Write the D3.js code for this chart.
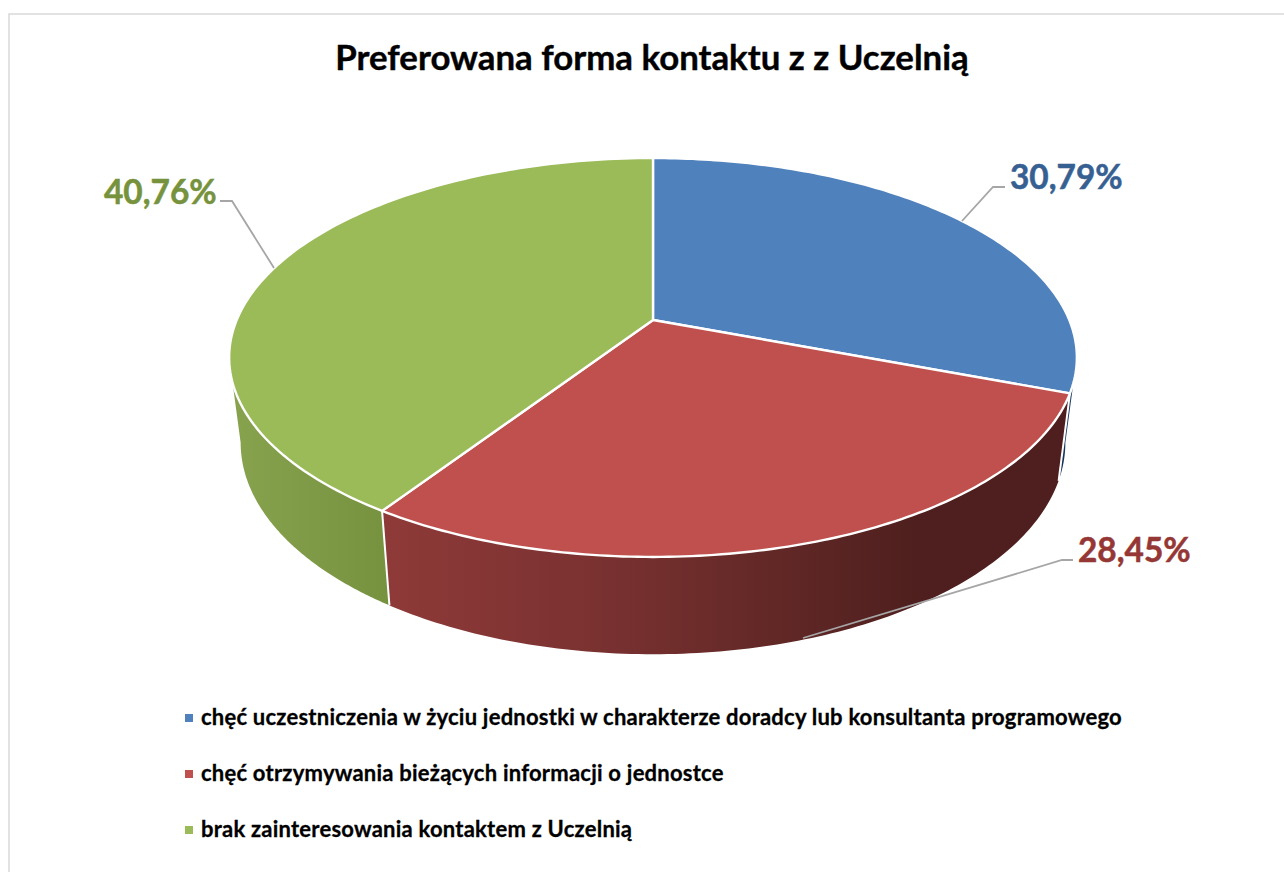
<!DOCTYPE html>
<html><head><meta charset="utf-8">
<script src="https://cdn.jsdelivr.net/npm/d3@7"></script>
<style>html,body{margin:0;padding:0;background:#fff}svg{display:block}text{font-family:Lato,"Open Sans",sans-serif;font-weight:700;paint-order:stroke}</style>
</head><body><div id="chart"></div>
<script>
const title = "Preferowana forma kontaktu z z Uczelnią";
const categories = [
  "chęć uczestniczenia w życiu jednostki w charakterze doradcy lub konsultanta programowego",
  "chęć otrzymywania bieżących informacji o jednostce",
  "brak zainteresowania kontaktem z Uczelnią"
];
const values = [30.79, 28.45, 40.76];
const topColors = ["#4f81bd", "#c0504d", "#9bbb59"];
const labelColors = ["#376092", "#953735", "#76923c"];

const W = 1284, H = 872;
const svg = d3.select("#chart").append("svg").attr("width", W).attr("height", H);
const defs = svg.append("defs");

// border (left and top edges run off the picture)
svg.append("path").attr("d", `M9 ${H}V14H${W}`).attr("fill", "none").attr("stroke", "#d9d9d9").attr("stroke-width", 1.5);

svg.append("text").attr("x", 652).attr("y", 69.5).attr("text-anchor", "middle")
  .attr("font-size", 34.8).attr("fill", "#000").attr("stroke", "#000").attr("stroke-width", 0.4).text(title);

// perspective projection of a unit disc
const K = 0.188;
const topDisc = {cx: 653, cy: 320, R: 416.3, S: 192.4};
const lowDisc = {cx: 653, cy: 403, R: 405, S: 204};
const project = (disc, a) => {
  const u = Math.sin(a), v = -Math.cos(a), w = 1 - K * v;
  return [disc.cx + disc.R * u / w, disc.cy + disc.S * v / w];
};
const arcPts = (disc, a0, a1) => d3.range(0, 121).map(i => project(disc, a0 + (a1 - a0) * i / 120));
const line = d3.line();

const arcs = d3.pie().sort(null)(values);
const tangentRight = Math.acos(-K), tangentLeft = 2 * Math.PI - tangentRight;

// side walls
const wallStops = [
  [[0, "#14305a"], [1, "#1f3f6e"]],
  [[0, "#8e3a38"], [0.3, "#7b3231"], [0.6, "#5f2725"], [0.78, "#4e1f1e"], [1, "#4e1f1e"]],
  [[0, "#87a34e"], [1, "#76923f"]]
];
const wallRanges = arcs.map(d => [Math.max(d.startAngle, tangentRight), Math.min(d.endAngle, tangentLeft)]);
[0, 2, 1].forEach(i => {
  const [a0, a1] = wallRanges[i];
  if (a1 <= a0) return;
  const top = arcPts(topDisc, a0, a1), low = arcPts(lowDisc, a0, a1).reverse();
  const xs = top.concat(low).map(p => p[0]);
  const id = "wall" + i;
  const g = defs.append("linearGradient").attr("id", id).attr("gradientUnits", "userSpaceOnUse")
    .attr("x1", d3.min(xs)).attr("x2", d3.max(xs)).attr("y1", 0).attr("y2", 0);
  wallStops[i].forEach(s => g.append("stop").attr("offset", s[0]).attr("stop-color", s[1]));
  svg.append("path").attr("d", line(top.concat(low)) + "Z").attr("fill", `url(#${id})`);
});
// white seams between walls
arcs.forEach((d, i) => {
  if (i === 0) return;
  svg.append("path").attr("d", line([project(topDisc, d.startAngle), project(lowDisc, d.startAngle)]))
    .attr("stroke", "#fff").attr("stroke-width", 2).attr("fill", "none");
});

// top face
arcs.forEach((d, i) => {
  const pts = [[topDisc.cx, topDisc.cy]].concat(arcPts(topDisc, d.startAngle, d.endAngle));
  svg.append("path").attr("d", line(pts) + "Z").attr("fill", topColors[i])
    .attr("stroke", "#fff").attr("stroke-width", 2.4).attr("stroke-linejoin", "round");
});

// leader lines and labels
const leaders = [
  [[962, 221], [993, 187], [1005, 187]],
  [[803, 638], [1062, 560], [1073, 560]],
  [[274, 268], [232, 201], [220, 201]]
];
const labelPos = [[1010, 189], [1078, 562], [104, 204]];
const fmt = v => v.toFixed(2).replace(".", ",") + "%";
leaders.forEach(l => svg.append("path").attr("d", line(l)).attr("fill", "none")
  .attr("stroke", "#a6a6a6").attr("stroke-width", 1.8));
values.forEach((v, i) => svg.append("text").attr("x", labelPos[i][0]).attr("y", labelPos[i][1])
  .attr("font-size", 33.4).attr("fill", labelColors[i]).attr("stroke", labelColors[i]).attr("stroke-width", 0.5).text(fmt(v)));

// legend
const legendY = d3.scalePoint().domain(categories).range([718, 830]);
categories.forEach((c, i) => {
  const y = legendY(c);
  svg.append("rect").attr("x", 185).attr("y", y - 4).attr("width", 8).attr("height", 8).attr("fill", topColors[i]);
  svg.append("text").attr("x", 201).attr("y", y + 7).attr("font-size", 22).attr("letter-spacing", 0.23)
    .attr("fill", "#000").attr("stroke", "#000").attr("stroke-width", 0.3).text(c);
});
</script></body></html>
